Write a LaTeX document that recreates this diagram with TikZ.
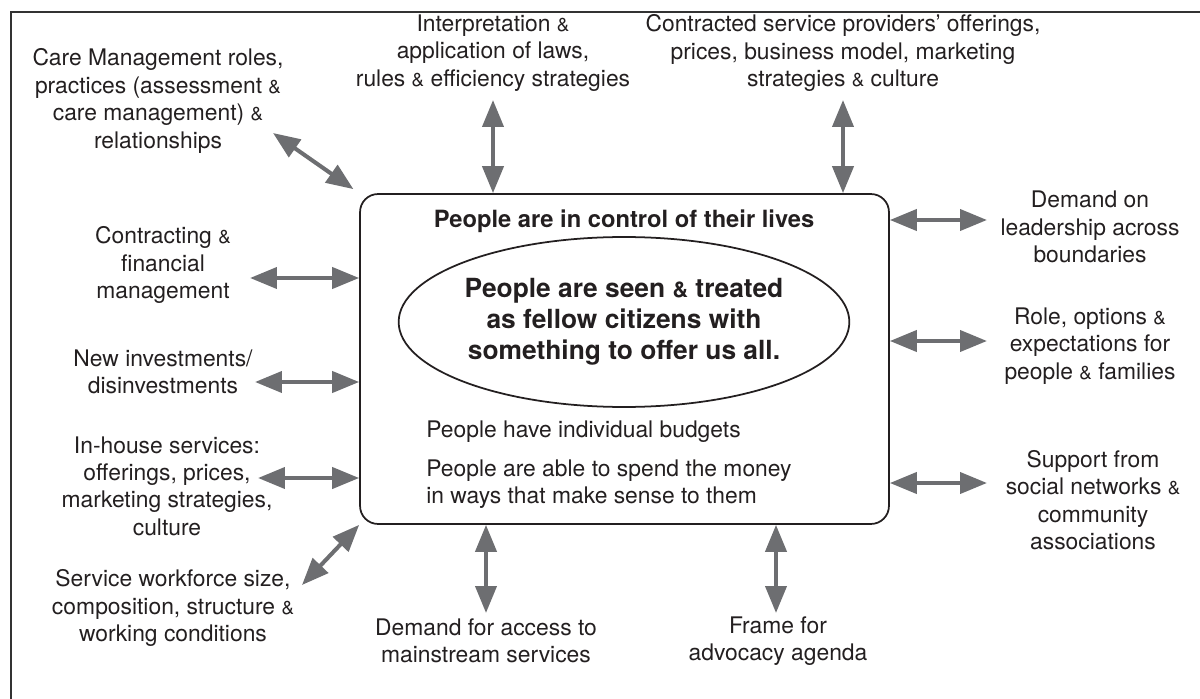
\documentclass[tikz,border=0pt]{standalone}
\usepackage{fontspec}
\setmainfont{TeX Gyre Heros}
\usepackage{tikz}
\usetikzlibrary{shapes.geometric, arrows.meta}
\definecolor{ink}{RGB}{35,31,32}
\definecolor{arrowgray}{RGB}{109,110,113}
\definecolor{framegray}{RGB}{50,50,50}
\newcommand{\amp}{\scalebox{0.82}{\&}}
\tikzset{
    outer/.style={align=center, text=ink, inner sep=0pt, font=\fontsize{13}{15.6}\selectfont},
    inbox/.style={align=left, text=ink, inner sep=0pt, font=\fontsize{13}{15.6}\selectfont},
    core/.style={rectangle, rounded corners=0.36cm, draw=ink, line width=1pt, minimum width=10.58cm, minimum height=6.6cm},
    citizen/.style={ellipse, draw=ink, line width=1pt, minimum width=8.88cm, minimum height=3.4cm, align=center, text=ink, inner sep=0pt, font=\bfseries\fontsize{15}{17.5}\selectfont},
    twoway/.style={{Triangle[length=0.54cm, width=0.42cm]}-{Triangle[length=0.54cm, width=0.42cm]}, draw=arrowgray, line width=2.3pt}
}

\begin{document}
\begin{tikzpicture}[x=0.02cm, y=-0.02cm]
    \useasboundingbox (0,0) rectangle (1200,699);
    % Frame
    \draw[framegray, line width=1.1pt] (11,699) -- (11,12) -- (1200,12);

    % Centre box
    \node[core] (box) at (624.5,359) {};
    \node[text=ink, inner sep=0pt, font=\bfseries\fontsize{13.5}{16}\selectfont] (control) at (624,221) {People are in control of their lives};
    \node[citizen] (fellow) at (624,322) {People are seen \amp{} treated\\as fellow citizens with\\something to offer us all.};
    \node[inbox, anchor=west] (budgets) at (426,432) {People have individual budgets};
    \node[inbox, anchor=west] (spend) at (426,484) {People are able to spend the money\\in ways that make sense to them};

    % Left side
    \node[outer] (care) at (158,101) {Care Management roles,\\practices (assessment \amp\\care management) \amp\\relationships};
    \node[outer] (contract) at (163,265) {Contracting \amp\\financial\\management};
    \node[outer] (invest) at (163,372) {New investments/\\disinvestments};
    \node[outer] (inhouse) at (167,486) {In-house services:\\offerings, prices,\\marketing strategies,\\culture};
    \node[outer] (workforce) at (173,608) {Service workforce size,\\composition, structure \amp\\working conditions};

    % Top
    \node[outer] (laws) at (493,53) {Interpretation \amp\\application of laws,\\rules \amp{} efficiency strategies};
    \node[outer] (providers) at (843,53) {Contracted service providers’ offerings,\\prices, business model, marketing\\strategies \amp{} culture};

    % Right side
    \node[outer] (leadership) at (1090,227) {Demand on\\leadership across\\boundaries};
    \node[outer] (families) at (1090,346) {Role, options \amp\\expectations for\\people \amp{} families};
    \node[outer] (networks) at (1093,500) {Support from\\social networks \amp\\community\\associations};

    % Bottom
    \node[outer] (access) at (486,641) {Demand for access to\\mainstream services};
    \node[outer] (advocacy) at (778,641) {Frame for\\advocacy agenda};

    % Arrow ends
    \coordinate (e_care) at (273,133);
    \coordinate (e_contract) at (250,278);
    \coordinate (e_invest) at (255,382);
    \coordinate (e_inhouse) at (258,478);
    \coordinate (e_workforce) at (302,585);
    \coordinate (e_laws) at (493,100);
    \coordinate (e_providers) at (843,100);
    \coordinate (e_leadership) at (987,220);
    \coordinate (e_families) at (987,341);
    \coordinate (e_networks) at (987,483);
    \coordinate (e_access) at (486,613);
    \coordinate (e_advocacy) at (776,613);

    % Arrows
    \draw[twoway, shorten >=4pt] (e_care) -- (box.north west);
    \draw[twoway] (e_contract) -- (box.west |- e_contract);
    \draw[twoway] (e_invest) -- (box.west |- e_invest);
    \draw[twoway] (e_inhouse) -- (box.west |- e_inhouse);
    \draw[twoway] (e_workforce) -- (box.south west);
    \draw[twoway] (e_laws) -- (e_laws |- box.north);
    \draw[twoway] (e_providers) -- (e_providers |- box.north);
    \draw[twoway] (box.east |- e_leadership) -- (e_leadership);
    \draw[twoway] (box.east |- e_families) -- (e_families);
    \draw[twoway] (box.east |- e_networks) -- (e_networks);
    \draw[twoway] (e_access) -- (e_access |- box.south);
    \draw[twoway] (e_advocacy) -- (e_advocacy |- box.south);
\end{tikzpicture}
\end{document}
